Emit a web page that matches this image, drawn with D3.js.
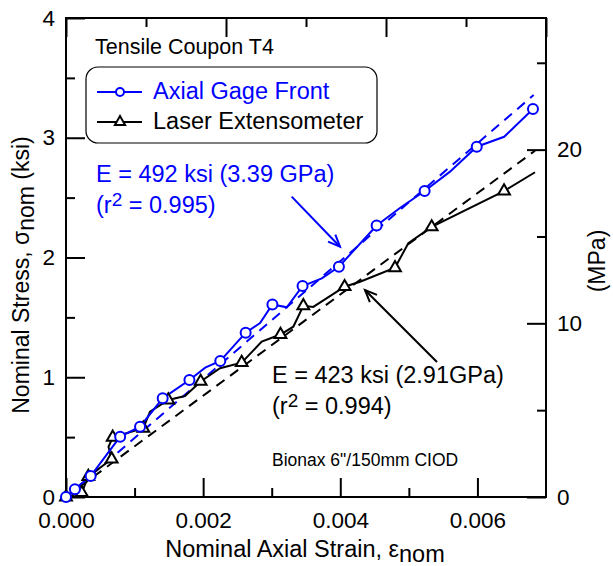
<!DOCTYPE html>
<html>
<head>
<meta charset="utf-8">
<script src="https://cdn.jsdelivr.net/npm/d3@7"></script>
<style>
  body { margin: 0; background: #fff; }
  text { font-family: "Liberation Sans", Arial, sans-serif; }
</style>
</head>
<body>
<svg id="chart" width="613" height="566"></svg>
<script>
// axial gage front, strain / stress (ksi)
var gageStrain = [0, 0.00013, 0.00036, 0.00079, 0.00108, 0.00141, 0.00180, 0.00203, 0.00225, 0.00262, 0.00283, 0.00301, 0.00322, 0.00345, 0.00373, 0.00398, 0.00453, 0.00487, 0.00523, 0.00560, 0.00599, 0.00639, 0.00681];
var gageStress = [0, 0.065, 0.175, 0.504, 0.587, 0.824, 0.977, 1.08, 1.136, 1.372, 1.453, 1.608, 1.584, 1.762, 1.826, 1.923, 2.267, 2.413, 2.555, 2.717, 2.925, 3.008, 3.240];
var gageMarks = [0, 1, 2, 3, 4, 5, 6, 8, 9, 11, 13, 15, 16, 18, 20, 22];

// laser extensometer
var laserStrain = [0, 0.000229, 0.000325, 0.000666, 0.00062, 0.000681, 0.001127, 0.001225, 0.001492, 0.001735, 0.001964, 0.002246, 0.002562, 0.002854, 0.003128, 0.003315, 0.003461, 0.003606, 0.004063, 0.004288, 0.004798, 0.004992, 0.005333, 0.006388, 0.00684];
var laserStress = [0, 0.036, 0.171, 0.317, 0.418, 0.499, 0.574, 0.712, 0.810, 0.843, 0.965, 1.075, 1.122, 1.297, 1.357, 1.422, 1.597, 1.587, 1.756, 1.798, 1.914, 2.119, 2.255, 2.555, 2.712];
var laserMarks = [0, 1, 2, 3, 5, 6, 8, 10, 12, 14, 16, 18, 20, 22, 23];

// linear fits (end points)
var gageFit = [[0, 0], [0.00682, 3.357]];
var laserFit = [[0, 0], [0.00684, 2.892]];

var xMajor = [0, 0.002, 0.004, 0.006];
var xMinor = [0.001, 0.003, 0.005];
var yMajor = [0, 1, 2, 3, 4];
var yMinor = [0.5, 1.5, 2.5, 3.5];
var mpaMajor = [0, 10, 20];
var mpaMinor = [5, 15, 25];
var topMajor = [0, 2, 4, 6];
var topMinor = [1, 3, 5];

var KSI_TO_MPA = 6.894757;
var BLUE = "#0000ff";

var svg = d3.select("#chart");
var font = "\"Liberation Sans\", Arial, sans-serif";

var x = d3.scaleLinear().domain([0, 0.007]).range([66, 546]);
var y = d3.scaleLinear().domain([0, 4]).range([497, 18]);
var yMpa = d3.scaleLinear().domain([0, 4 * KSI_TO_MPA]).range([497, 18]);
var xTop = d3.scaleLinear().domain([0, 6]).range([66, 546]);

function styleAxis(g, size) {
	g.select(".domain").remove();
	g.selectAll(".tick line").attr("stroke", "#000").attr("stroke-width", 2);
	g.selectAll(".tick text").attr("fill", "#000").style("font-size", size + "px").style("font-family", font);
}

// bottom
svg.append("g").attr("transform", "translate(0,497)")
   .call(d3.axisBottom(x).tickValues(xMajor).tickFormat(d3.format(".3f")).tickSize(-19).tickPadding(15))
   .call(g => styleAxis(g, 22.5));
svg.append("g").attr("transform", "translate(0,497)")
   .call(d3.axisBottom(x).tickValues(xMinor).tickFormat("").tickSize(-9))
   .call(g => styleAxis(g, 22.5));
// top
svg.append("g").attr("transform", "translate(0,18)")
   .call(d3.axisTop(xTop).tickValues(topMajor).tickFormat("").tickSize(-19))
   .call(g => styleAxis(g, 22.5));
svg.append("g").attr("transform", "translate(0,18)")
   .call(d3.axisTop(xTop).tickValues(topMinor).tickFormat("").tickSize(-9))
   .call(g => styleAxis(g, 22.5));
// left
svg.append("g").attr("transform", "translate(66,0)")
   .call(d3.axisLeft(y).tickValues(yMajor).tickFormat(d3.format("d")).tickSize(-19).tickPadding(11))
   .call(g => styleAxis(g, 22.5));
svg.append("g").attr("transform", "translate(66,0)")
   .call(d3.axisLeft(y).tickValues(yMinor).tickFormat("").tickSize(-9))
   .call(g => styleAxis(g, 22.5));
// right
svg.append("g").attr("transform", "translate(546,0)")
   .call(d3.axisRight(yMpa).tickValues(mpaMajor).tickFormat(d3.format("d")).tickSize(-19).tickPadding(11))
   .call(g => styleAxis(g, 22.5));
svg.append("g").attr("transform", "translate(546,0)")
   .call(d3.axisRight(yMpa).tickValues(mpaMinor).tickFormat("").tickSize(-9))
   .call(g => styleAxis(g, 22.5));

svg.append("rect")
   .attr("x", 66).attr("y", 18).attr("width", 480).attr("height", 479)
   .attr("fill", "none").attr("stroke", "#000").attr("stroke-width", 2);

// fit lines
var line = d3.line().x(d => x(d[0])).y(d => y(d[1]));
svg.append("path").datum(gageFit).attr("d", line)
   .attr("fill", "none").attr("stroke", BLUE).attr("stroke-width", 2).attr("stroke-dasharray", "10,7");
svg.append("path").datum(laserFit).attr("d", line)
   .attr("fill", "none").attr("stroke", "#000").attr("stroke-width", 2).attr("stroke-dasharray", "10,7");

// data lines
var gage = gageStrain.map((s, i) => [s, gageStress[i]]);
var laser = laserStrain.map((s, i) => [s, laserStress[i]]);

svg.append("path").datum(laser).attr("d", line)
   .attr("fill", "none").attr("stroke", "#000").attr("stroke-width", 2);
svg.append("path").datum(gage).attr("d", line)
   .attr("fill", "none").attr("stroke", BLUE).attr("stroke-width", 2);

var tri = d3.symbol().type(d3.symbolTriangle).size(60);
svg.append("g").selectAll("path")
   .data(laserMarks.map(i => laser[i]))
   .enter().append("path")
   .attr("d", tri)
   .attr("transform", d => "translate(" + x(d[0]) + "," + y(d[1]) + ")")
   .attr("fill", "#fff").attr("stroke", "#000").attr("stroke-width", 2);

svg.append("g").selectAll("circle")
   .data(gageMarks.map(i => gage[i]))
   .enter().append("circle")
   .attr("cx", d => x(d[0])).attr("cy", d => y(d[1])).attr("r", 5)
   .attr("fill", "#fff").attr("stroke", BLUE).attr("stroke-width", 2);

// legend
svg.append("text").attr("x", 95).attr("y", 54).style("font-size", "21.5px").text("Tensile Coupon T4");
svg.append("rect").attr("x", 86).attr("y", 67).attr("width", 291).attr("height", 76).attr("rx", 12)
   .attr("fill", "#fff").attr("stroke", "#000").attr("stroke-width", 1.2);
var leg = [
	{name: "Axial Gage Front", color: BLUE, y: 92, mark: "circle"},
	{name: "Laser Extensometer", color: "#000", y: 122, mark: "tri"}
];
leg.forEach(function(l) {
	svg.append("line").attr("x1", 97).attr("x2", 142).attr("y1", l.y).attr("y2", l.y)
	   .attr("stroke", l.color).attr("stroke-width", 2);
	if (l.mark == "circle")
		svg.append("circle").attr("cx", 120).attr("cy", l.y).attr("r", 4)
		   .attr("fill", "#fff").attr("stroke", l.color).attr("stroke-width", 2);
	else
		svg.append("path").attr("d", d3.symbol().type(d3.symbolTriangle).size(45))
		   .attr("transform", "translate(120," + l.y + ")")
		   .attr("fill", "#fff").attr("stroke", l.color).attr("stroke-width", 2);
	svg.append("text").attr("x", 153).attr("y", l.y + 7).attr("fill", l.color)
	   .style("font-size", "23.5px").text(l.name);
});

// annotations
function twoLine(x0, y0, first, r2, color) {
	svg.append("text").attr("x", x0).attr("y", y0).attr("fill", color).style("font-size", "23.5px").text(first);
	var t = svg.append("text").attr("x", x0).attr("y", y0 + 31).attr("fill", color).style("font-size", "23.5px");
	t.append("tspan").text("(r");
	t.append("tspan").attr("dy", -7).style("font-size", "19px").text("2");
	t.append("tspan").attr("dy", 7).text(" = " + r2 + ")");
}
twoLine(96, 182, "E = 492 ksi (3.39 GPa)", "0.995", BLUE);
twoLine(272, 383, "E = 423 ksi (2.91GPa)", "0.994", "#000");

svg.append("text").attr("x", 272).attr("y", 466).style("font-size", "17.5px").text("Bionax 6\"/150mm CIOD");

// arrows
function arrow(from, to, color) {
	var x1 = x(from[0]), y1 = y(from[1]), x2 = x(to[0]), y2 = y(to[1]);
	var a = Math.atan2(y2 - y1, x2 - x1), h = 13, w = 0.4;
	svg.append("line").attr("x1", x1).attr("y1", y1).attr("x2", x2).attr("y2", y2)
	   .attr("stroke", color).attr("stroke-width", 2);
	svg.append("path")
	   .attr("d", "M" + (x2 - h * Math.cos(a - w)) + "," + (y2 - h * Math.sin(a - w)) +
	              "L" + x2 + "," + y2 +
	              "L" + (x2 - h * Math.cos(a + w)) + "," + (y2 - h * Math.sin(a + w)))
	   .attr("fill", "none").attr("stroke", color).attr("stroke-width", 2);
}
arrow([0.003291, 2.508], [0.003996, 2.090], BLUE);
arrow([0.00541, 1.127], [0.00436, 1.729], "#000");

// axis titles
var xt = svg.append("text").attr("x", 305).attr("y", 557).attr("text-anchor", "middle").style("font-size", "23.5px");
xt.append("tspan").text("Nominal Axial Strain, \u03b5");
xt.append("tspan").attr("dy", 5).text("nom");

var yt = svg.append("text").attr("transform", "translate(29,275) rotate(-90)").attr("text-anchor", "middle").style("font-size", "23px");
yt.append("tspan").text("Nominal Stress, \u03c3");
yt.append("tspan").attr("dy", 5).text("nom");
yt.append("tspan").attr("dy", -5).text(" (ksi)");

svg.append("text").attr("transform", "translate(605,261) rotate(-90)").attr("text-anchor", "middle")
   .style("font-size", "23px").text("(MPa)");
</script>
</body>
</html>
